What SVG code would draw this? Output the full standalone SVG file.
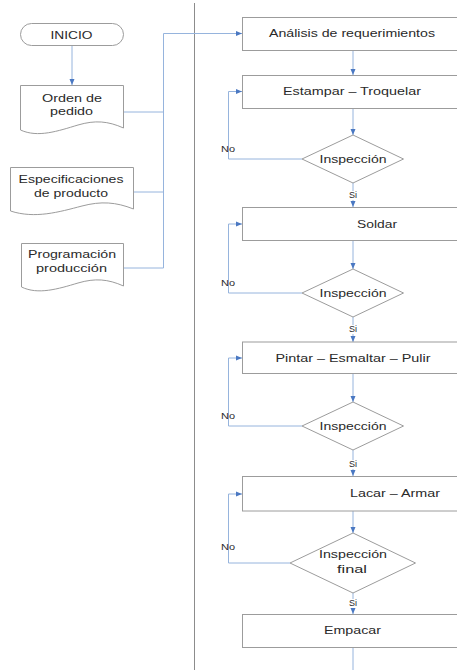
<svg xmlns="http://www.w3.org/2000/svg" width="457" height="670" viewBox="0 0 457 670">
  <style>
    .shape { fill: #ffffff; stroke: #9c9c9c; stroke-width: 1; }
    .conn { fill: none; stroke: #96b4dd; stroke-width: 1; }
    .lbl { font-family: "Liberation Sans", Arial, sans-serif; font-size: 11px; fill: #2a2a2a; text-anchor: middle; }
    .sm { font-family: "Liberation Sans", Arial, sans-serif; font-size: 8.5px; fill: #2a2a2a; text-anchor: middle; }
    .sep { stroke: #8c8c8c; stroke-width: 1; }
  </style>
  <defs>
    <marker id="arr" viewBox="0 0 6 6" refX="6" refY="3" markerWidth="6" markerHeight="6" markerUnits="userSpaceOnUse" orient="auto">
      <path d="M0,0.5 L6,3 L0,5.5 Z" fill="#4a78c2"/>
    </marker>
  </defs>

  <rect width="457" height="670" fill="#ffffff"/>

  <!-- lane separator -->
  <line class="sep" x1="194.5" y1="3" x2="194.5" y2="670"/>

  <!-- connectors -->
  <g id="connectors">
    <line class="conn" x1="72" y1="45" x2="72" y2="85" marker-end="url(#arr)"/>
    <polyline class="conn" points="123,112 163.5,112"/>
    <polyline class="conn" points="133,192 163.5,192"/>
    <polyline class="conn" points="123,268 163.5,268 163.5,33.5 242,33.5" marker-end="url(#arr)"/>

    <line class="conn" x1="353" y1="50" x2="353" y2="75" marker-end="url(#arr)"/>
    <line class="conn" x1="353" y1="108" x2="353" y2="135" marker-end="url(#arr)"/>
    <polyline class="conn" points="302,159 228.5,159 228.5,91.5 242,91.5" marker-end="url(#arr)"/>
    <line class="conn" x1="353" y1="183" x2="353" y2="207" marker-end="url(#arr)"/>

    <line class="conn" x1="353" y1="240" x2="353" y2="269" marker-end="url(#arr)"/>
    <polyline class="conn" points="302,293 228.5,293 228.5,224 242,224" marker-end="url(#arr)"/>
    <line class="conn" x1="353" y1="317" x2="353" y2="342" marker-end="url(#arr)"/>

    <line class="conn" x1="353" y1="373" x2="353" y2="402" marker-end="url(#arr)"/>
    <polyline class="conn" points="302,426 228.5,426 228.5,358 242,358" marker-end="url(#arr)"/>
    <line class="conn" x1="353" y1="450" x2="353" y2="476" marker-end="url(#arr)"/>

    <line class="conn" x1="353" y1="511" x2="353" y2="533" marker-end="url(#arr)"/>
    <polyline class="conn" points="290,563 228.5,563 228.5,494 242,494" marker-end="url(#arr)"/>
    <line class="conn" x1="353" y1="593" x2="353" y2="614" marker-end="url(#arr)"/>

    <line class="conn" x1="353" y1="647" x2="353" y2="670"/>

    <!-- branch labels -->
    <text class="sm" x="228" y="152" textLength="14" lengthAdjust="spacingAndGlyphs">No</text>
    <text class="sm" x="228" y="286" textLength="14" lengthAdjust="spacingAndGlyphs">No</text>
    <text class="sm" x="228" y="419" textLength="14" lengthAdjust="spacingAndGlyphs">No</text>
    <text class="sm" x="228" y="550" textLength="14" lengthAdjust="spacingAndGlyphs">No</text>

    <rect x="347" y="191" width="12" height="9" fill="#ffffff"/>
    <text class="sm" x="353" y="198" textLength="8" lengthAdjust="spacingAndGlyphs">Si</text>
    <rect x="347" y="325" width="12" height="9" fill="#ffffff"/>
    <text class="sm" x="353" y="332" textLength="8" lengthAdjust="spacingAndGlyphs">Si</text>
    <rect x="347" y="460" width="12" height="9" fill="#ffffff"/>
    <text class="sm" x="353" y="467" textLength="8" lengthAdjust="spacingAndGlyphs">Si</text>
    <rect x="347" y="599" width="12" height="9" fill="#ffffff"/>
    <text class="sm" x="353" y="606" textLength="8" lengthAdjust="spacingAndGlyphs">Si</text>
  </g>

  <!-- left lane: inputs -->
  <g id="inicio">
    <rect class="shape" x="20.5" y="23.5" width="103" height="22" rx="11" ry="11"/>
    <text class="lbl" x="71.5" y="38.5" textLength="42" lengthAdjust="spacingAndGlyphs">INICIO</text>
  </g>

  <g id="orden-pedido">
    <path class="shape" d="M20.5,85.5 H123.5 V128 C108,121 95,120 78,125 C58,131 38,138 20.5,130 Z"/>
    <text class="lbl" x="72" y="102" textLength="60" lengthAdjust="spacingAndGlyphs">Orden de</text>
    <text class="lbl" x="71.5" y="114.5" textLength="43" lengthAdjust="spacingAndGlyphs">pedido</text>
  </g>

  <g id="especificaciones">
    <path class="shape" d="M10.5,167.5 H133.5 V209 C116,202 101,201 82,206 C59,212 35,219 10.5,211 Z"/>
    <text class="lbl" x="71" y="183" textLength="105" lengthAdjust="spacingAndGlyphs">Especificaciones</text>
    <text class="lbl" x="71" y="197" textLength="74" lengthAdjust="spacingAndGlyphs">de producto</text>
  </g>

  <g id="programacion">
    <path class="shape" d="M21.5,243.5 H123.5 V286 C108,279 95,278 78,283 C58,289 38,295 21.5,287 Z"/>
    <text class="lbl" x="72" y="258" textLength="88" lengthAdjust="spacingAndGlyphs">Programación</text>
    <text class="lbl" x="71.5" y="272" textLength="71" lengthAdjust="spacingAndGlyphs">producción</text>
  </g>

  <!-- right lane: process -->
  <g id="analisis">
    <rect class="shape" x="242.5" y="17.5" width="230" height="33"/>
    <text class="lbl" x="352" y="37" textLength="166" lengthAdjust="spacingAndGlyphs">Análisis de requerimientos</text>
  </g>

  <g id="estampar">
    <rect class="shape" x="242.5" y="75.5" width="230" height="33"/>
    <text class="lbl" x="352" y="95" textLength="138" lengthAdjust="spacingAndGlyphs">Estampar – Troquelar</text>
  </g>

  <g id="inspeccion-1">
    <polygon class="shape" points="353,135 403.5,159 353,183 302,159"/>
    <text class="lbl" x="353" y="163" textLength="67" lengthAdjust="spacingAndGlyphs">Inspección</text>
  </g>

  <g id="soldar">
    <rect class="shape" x="242.5" y="207.5" width="230" height="33"/>
    <text class="lbl" x="377" y="228" textLength="40" lengthAdjust="spacingAndGlyphs">Soldar</text>
  </g>

  <g id="inspeccion-2">
    <polygon class="shape" points="353,269 403.5,293 353,317 302,293"/>
    <text class="lbl" x="353" y="297" textLength="67" lengthAdjust="spacingAndGlyphs">Inspección</text>
  </g>

  <g id="pintar">
    <rect class="shape" x="242.5" y="342" width="230" height="31.5"/>
    <text class="lbl" x="353" y="362" textLength="155" lengthAdjust="spacingAndGlyphs">Pintar – Esmaltar – Pulir</text>
  </g>

  <g id="inspeccion-3">
    <polygon class="shape" points="353,402 403.5,426 353,450 302,426"/>
    <text class="lbl" x="353" y="430" textLength="67" lengthAdjust="spacingAndGlyphs">Inspección</text>
  </g>

  <g id="lacar">
    <rect class="shape" x="242.5" y="476.5" width="230" height="34.5"/>
    <text class="lbl" x="395" y="497" textLength="90" lengthAdjust="spacingAndGlyphs">Lacar – Armar</text>
  </g>

  <g id="inspeccion-final">
    <polygon class="shape" points="353,533 415.5,563 353,593 290,563"/>
    <text class="lbl" x="353" y="558" textLength="68" lengthAdjust="spacingAndGlyphs">Inspección</text>
    <text class="lbl" x="352" y="573" textLength="30" lengthAdjust="spacingAndGlyphs">final</text>
  </g>

  <g id="empacar">
    <rect class="shape" x="242.5" y="614.5" width="230" height="33"/>
    <text class="lbl" x="352.5" y="634" textLength="57" lengthAdjust="spacingAndGlyphs">Empacar</text>
  </g>
</svg>
